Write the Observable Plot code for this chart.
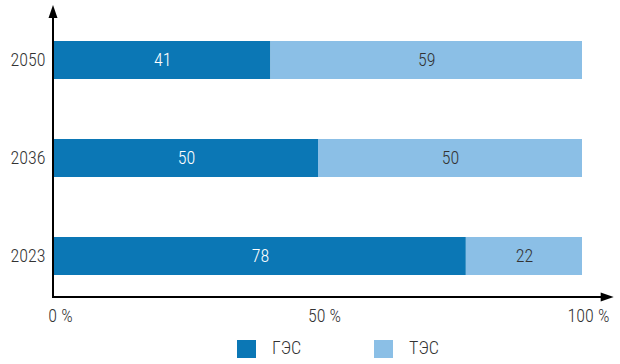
<!DOCTYPE html>
<html>
<head>
<meta charset="utf-8">
<script src="https://cdn.jsdelivr.net/npm/d3@7"></script>
<script src="https://cdn.jsdelivr.net/npm/@observablehq/plot@0.6"></script>
<style>
  html, body { margin: 0; padding: 0; background: #fff; }
  body { width: 620px; height: 364px; overflow: hidden; font-family: "Roboto Condensed", "Liberation Sans Narrow", "Arial Narrow", Roboto, sans-serif; font-weight: 300; }
  #chart { position: relative; width: 620px; }
  #legend { position: relative; width: 620px; height: 34px; font-size: 18px; color: #333; }
  .sw { position: absolute; top: 10px; width: 19px; height: 18px; }
  .lb { position: absolute; top: 8px; line-height: 20px; }
</style>
</head>
<body>
<div id="chart"></div>
<div id="legend"></div>
<script>
const years = ["2050", "2036", "2023"];
const sources = ["ГЭС", "ТЭС"];
const hydro = [41, 50, 78];   // ГЭС
const thermal = [59, 50, 22]; // ТЭС
const xTicks = [0, 50, 100];
const colors = ["#0b77b5", "#8bbfe6"];
const textColors = ["#ffffff", "#333333"];

const data = [];
years.forEach((y, i) => {
  data.push({year: y, source: sources[0], value: hydro[i]});
  data.push({year: y, source: sources[1], value: thermal[i]});
});

const font = "'Roboto Condensed', 'Liberation Sans Narrow', 'Arial Narrow', Roboto, sans-serif";

const plot = Plot.plot({
  width: 620,
  height: 330,
  marginLeft: 54,
  marginRight: 38,
  marginTop: 19,
  marginBottom: 33,
  style: {fontFamily: font, fontSize: "18px", fontWeight: 300, color: "#333", background: "#fff"},
  x: {domain: [0, 100], axis: null},
  y: {domain: years, paddingInner: 0.61, paddingOuter: 0.218, axis: null},
  color: {domain: sources, range: colors},
  marks: [
    Plot.barX(data, {x: "value", y: "year", fill: "source", order: null}),
    Plot.text(data, Plot.stackX({
      x: "value", y: "year", order: null,
      text: d => String(d.value),
      fill: d => textColors[sources.indexOf(d.source)],
      fontSize: 18, fontWeight: 300
    })),
    Plot.axisY({tickSize: 0, tickPadding: 9, fontSize: 18, fontWeight: 300, fill: "#333", label: null}),
    Plot.axisX({ticks: xTicks, tickFormat: d => d + " %", tickSize: 0, tickPadding: 12, dx: 6, fontSize: 18, fontWeight: 300, fill: "#333", label: null})
  ]
});

document.getElementById("chart").appendChild(plot);

// axis lines with arrowheads, positioned through the plot's scales
const sx = plot.scale("x");
const x0 = sx.apply(0) - 1;
const xEnd = sx.apply(106);
const yBottom = 330 - 33;
const yTop = 5;
const svg = d3.select(plot);
const g = svg.append("g").attr("stroke", "#000").attr("fill", "#000");
g.append("line").attr("x1", x0).attr("x2", xEnd - 8).attr("y1", yBottom).attr("y2", yBottom).attr("stroke-width", 2);
g.append("line").attr("x1", x0).attr("x2", x0).attr("y1", yBottom + 1).attr("y2", yTop + 8).attr("stroke-width", 2);
g.append("path").attr("stroke", "none").attr("d", `M${xEnd},${yBottom} L${xEnd - 13},${yBottom - 4.5} L${xEnd - 13},${yBottom + 4.5} Z`);
g.append("path").attr("stroke", "none").attr("d", `M${x0},${yTop} L${x0 - 4.5},${yTop + 13} L${x0 + 4.5},${yTop + 13} Z`);

// legend
const legend = document.getElementById("legend");
const legendX = [237, 374];
sources.forEach((s, i) => {
  const sw = document.createElement("div");
  sw.className = "sw";
  sw.style.left = legendX[i] + "px";
  sw.style.background = colors[i];
  legend.appendChild(sw);
  const lb = document.createElement("div");
  lb.className = "lb";
  lb.style.left = (legendX[i] + 35) + "px";
  lb.textContent = s;
  legend.appendChild(lb);
});
</script>
</body>
</html>
